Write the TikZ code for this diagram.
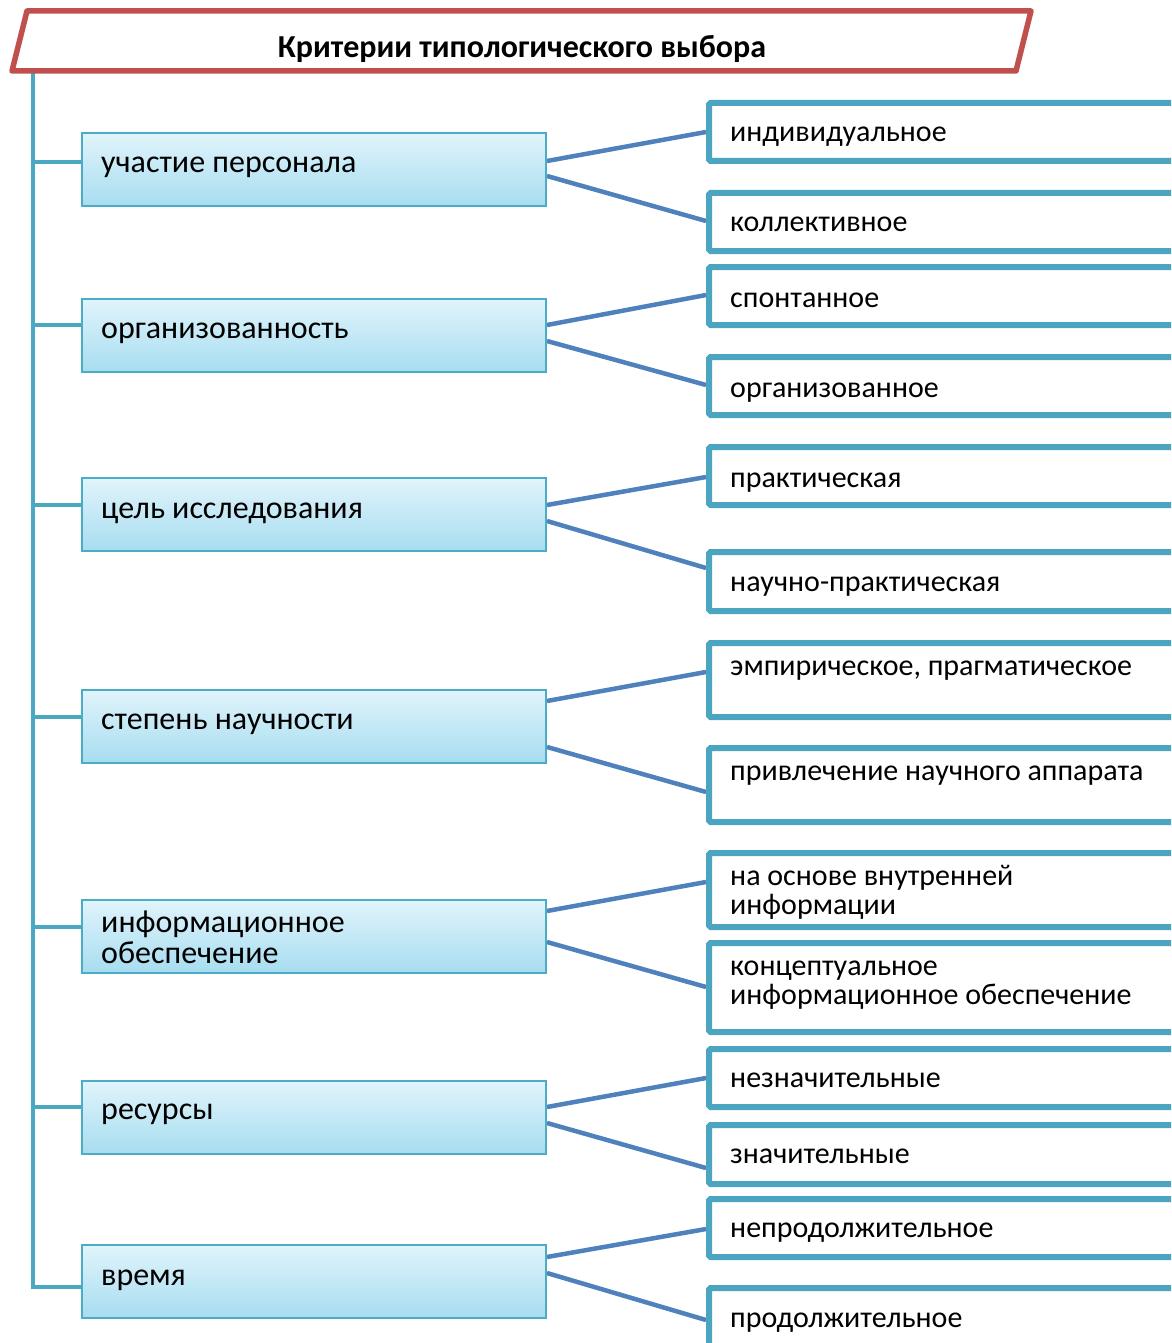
\documentclass[tikz,border=0pt]{standalone}
\usepackage{fontspec}
\setmainfont{Carlito}
\definecolor{framered}{HTML}{C0504D}
\definecolor{stemteal}{HTML}{4AA8C2}
\definecolor{rim}{HTML}{4BA5C0}
\definecolor{boxedge}{HTML}{4BACC6}
\definecolor{boxtop}{HTML}{E1F4FB}
\definecolor{boxbottom}{HTML}{A7DDF0}
\definecolor{linkblue}{HTML}{4F81BD}
\pgfdeclarelayer{background}
\pgfsetlayers{background,main}
% two lines of text whose baseline is that of the first line
\newcommand{\twolines}[2]{\begin{tabular}[t]{@{}l@{}}#1\\#2\end{tabular}}
\begin{document}
\begin{tikzpicture}[x=1pt,y=-1pt,
  lbox/.style={draw=boxedge, line width=2pt, top color=boxtop, bottom color=boxbottom,
    minimum width=464pt, minimum height=73pt, inner sep=0pt},
  rbox/.style={draw=rim, line width=6pt, rounded corners=1.5pt, fill=white,
    minimum width=491pt, inner sep=0pt},
  ltext/.style={anchor=base west, inner sep=0pt, font=\fontsize{32}{31}\selectfont},
  rtext/.style={anchor=base west, inner sep=0pt, font=\fontsize{30}{28}\selectfont},
  ttext/.style={anchor=base, inner sep=0pt, font=\fontsize{32}{32}\selectfont\bfseries},
  link/.style={draw=linkblue, line width=4.5pt},
  stem/.style={draw=stemteal, line width=4.5pt},
  frame/.style={draw=framered, line width=5.5pt, line join=round},
]
\useasboundingbox (0,0) rectangle (1171,1343);
\clip (0,0) rectangle (1171,1343);

% heading frame (a parallelogram) and its text
\draw[frame] (27,11) -- (1031,11) -- (1016,71) -- (12,71) -- cycle;
\node[ttext] (T) at (522,58) {Критерии типологического выбора};
\coordinate (stemtop) at (33,71);

% criteria (left column)
\node[lbox] (L1) at (314,169.5) {};
\node[lbox] (L2) at (314,335) {};
\node[lbox] (L3) at (314,514.5) {};
\node[lbox] (L4) at (314,726) {};
\node[lbox] (L5) at (314,936) {};
\node[lbox] (L6) at (314,1117) {};
\node[lbox] (L7) at (314,1281) {};

\node[ltext] (L1t) at (101,172.5) {участие персонала};
\node[ltext] (L2t) at (101,338) {организованность};
\node[ltext] (L3t) at (101,518) {цель исследования};
\node[ltext] (L4t) at (101,729) {степень научности};
\node[ltext] (L5t) at (101,932) {\twolines{информационное}{обеспечение}};
\node[ltext] (L6t) at (101,1119) {ресурсы};
\node[ltext] (L7t) at (101,1285) {время};

% options (right column)
\node[rbox, minimum height=58pt] (R1) at (954.5,132) {};
\node[rbox, minimum height=58pt] (R2) at (954.5,222) {};
\node[rbox, minimum height=58pt] (R3) at (954.5,296) {};
\node[rbox, minimum height=58pt] (R4) at (954.5,386) {};
\node[rbox, minimum height=58pt] (R5) at (954.5,476) {};
\node[rbox, minimum height=59pt] (R6) at (954.5,581.5) {};
\node[rbox, minimum height=74pt] (R7) at (954.5,680) {};
\node[rbox, minimum height=74pt] (R8) at (954.5,785) {};
\node[rbox, minimum height=74pt] (R9) at (954.5,890) {};
\node[rbox, minimum height=89pt] (R10) at (954.5,987.5) {};
\node[rbox, minimum height=58pt] (R11) at (954.5,1078) {};
\node[rbox, minimum height=59pt] (R12) at (954.5,1154.5) {};
\node[rbox, minimum height=58pt] (R13) at (954.5,1228) {};
\node[rbox, minimum height=59pt] (R14) at (954.5,1317.5) {};

\node[rtext] (R1t) at (730,141.5) {индивидуальное};
\node[rtext] (R2t) at (730,231.5) {коллективное};
\node[rtext] (R3t) at (730,307.5) {спонтанное};
\node[rtext] (R4t) at (730,397.5) {организованное};
\node[rtext] (R5t) at (730,487.5) {практическая};
\node[rtext] (R6t) at (730,591.5) {научно-практическая};
\node[rtext] (R7t) at (730,675.5) {эмпирическое, прагматическое};
\node[rtext] (R8t) at (730,780.5) {привлечение научного аппарата};
\node[rtext] (R9t) at (730,885.5) {\twolines{на основе внутренней}{информации}};
\node[rtext] (R10t) at (730,975.5) {\twolines{концептуальное}{информационное обеспечение}};
\node[rtext] (R11t) at (730,1087.5) {незначительные};
\node[rtext] (R12t) at (730,1163.5) {значительные};
\node[rtext] (R13t) at (730,1237.5) {непродолжительное};
\node[rtext] (R14t) at (730,1327.5) {продолжительное};

\begin{pgfonlayer}{background}
  % branch points on the left sides of the criteria
  \coordinate (b1) at ([yshift=7.5pt]L1.west);
  \coordinate (b2) at ([yshift=10pt]L2.west);
  \coordinate (b3) at ([yshift=9.5pt]L3.west);
  \coordinate (b4) at ([yshift=9pt]L4.west);
  \coordinate (b5) at ([yshift=9pt]L5.west);
  \coordinate (b6) at ([yshift=10pt]L6.west);
  \coordinate (b7) at ([yshift=-6pt]L7.west);
  % main stem from the heading down to the last criterion
  \draw[stem] (stemtop) -- (stemtop |- b7) -- (b7);
  \foreach \i in {1,...,6} {\draw[stem] (stemtop |- b\i) -- (b\i);}

  % connectors from each criterion to its two options
  \draw[link] ([yshift=8.5pt]L1.east) -- (R1.west);
  \draw[link] ([yshift=-6.5pt]L1.east) -- ([yshift=1pt]R2.west);
  \draw[link] ([yshift=10pt]L2.east) -- ([yshift=1pt]R3.west);
  \draw[link] ([yshift=-6pt]L2.east) -- ([yshift=1pt]R4.west);
  \draw[link] ([yshift=9.5pt]L3.east) -- ([yshift=-1pt]R5.west);
  \draw[link] ([yshift=-6.5pt]L3.east) -- ([yshift=13.5pt]R6.west);
  \draw[link] ([yshift=25pt]L4.east) -- ([yshift=8pt]R7.west);
  \draw[link] ([yshift=-21pt]L4.east) -- ([yshift=-7pt]R8.west);
  \draw[link] ([yshift=25pt]L5.east) -- ([yshift=8pt]R9.west);
  \draw[link] ([yshift=-6pt]L5.east) -- ([yshift=0.5pt]R10.west);
  \draw[link] ([yshift=10pt]L6.east) -- (R11.west);
  \draw[link] ([yshift=-6pt]L6.east) -- ([yshift=-13.5pt]R12.west);
  \draw[link] ([yshift=24pt]L7.east) -- ([yshift=-1pt]R13.west);
  \draw[link] ([yshift=8pt]L7.east) -- ([yshift=-2.5pt]R14.west);
\end{pgfonlayer}
\end{tikzpicture}
\end{document}
